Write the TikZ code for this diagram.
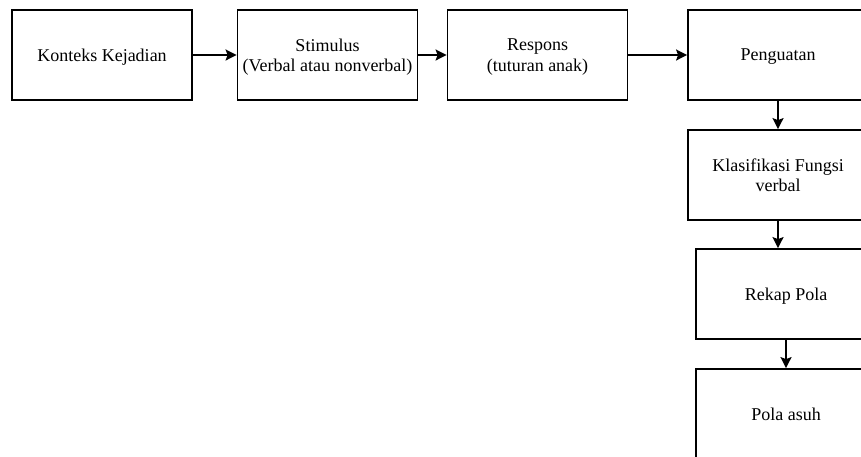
\documentclass[tikz,border=0pt]{standalone}
\usepackage{fontspec}
\setmainfont{Liberation Serif}
\usetikzlibrary{calc, positioning}
\usetikzlibrary{arrows.meta}

\begin{document}
\begin{tikzpicture}[x=0.5pt, y=-0.5pt,
  box/.style={draw, line width=0.9pt, minimum width=90pt, minimum height=45pt,
    align=center, font=\fontsize{9}{10.2}\selectfont, inner sep=0pt, text depth=0pt},
  arr/.style={-{Stealth[length=5.5pt, width=5.5pt, inset=1pt]}, line width=0.9pt}]

\useasboundingbox (0,0) rectangle (861,456);
\clip (0,0) rectangle (861,456);

% top row
\node[box] (konteks) at (102,55) {Konteks Kejadian};
\node[box] (stimulus) at (327.5,55) {Stimulus\\(Verbal atau nonverbal)};
\node[box] (respons) at (537.5,55) {Respons\\(tuturan anak)};
\node[box] (penguatan) at (778,55) {Penguatan};

% right column
\node[box] (klasifikasi) at (778,175) {Klasifikasi Fungsi\\verbal};
\node[box] (rekap) at (786,294) {Rekap Pola};
\node[box] (polaasuh) at (786,414) {Pola asuh};

\draw[arr] (konteks) -- (stimulus);
\draw[arr] (stimulus) -- (respons);
\draw[arr] (respons) -- (penguatan);
\draw[arr] (penguatan) -- (klasifikasi);
\draw[arr] (klasifikasi.south) -- (klasifikasi.south |- rekap.north);
\draw[arr] (rekap) -- (polaasuh);
\end{tikzpicture}
\end{document}
